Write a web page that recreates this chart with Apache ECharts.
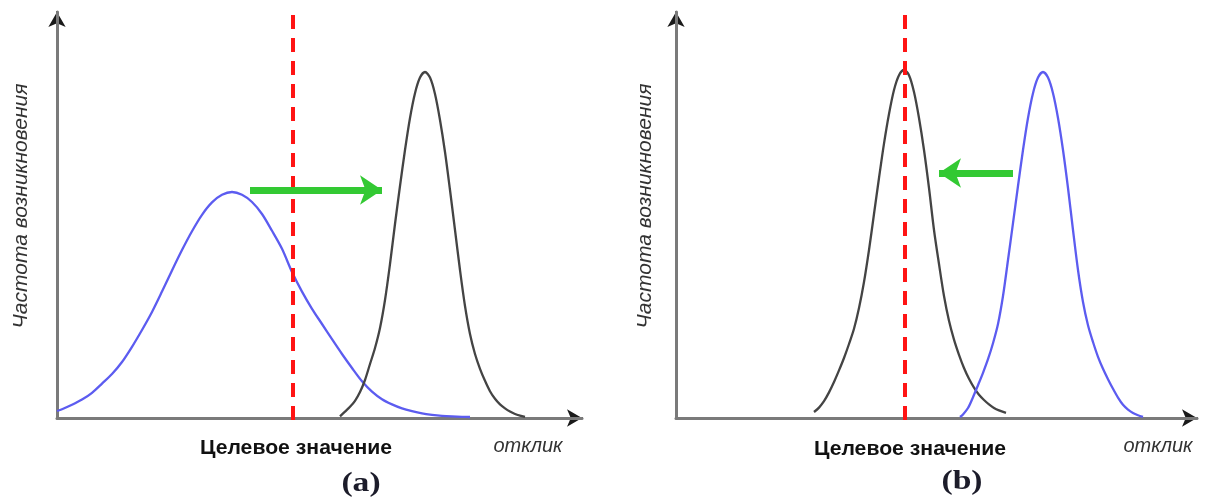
<!DOCTYPE html>
<html>
<head>
<meta charset="utf-8">
<script src="https://cdn.jsdelivr.net/npm/echarts@6/dist/echarts.min.js"></script>
<style>
html,body{margin:0;padding:0;background:#fff;}
#chart{width:1205px;height:501px;}
</style>
</head>
<body>
<div id="chart"></div>
<script>
// ---- data (response units on x, frequency on y) ----
// Panel (a)
const aBlueX = [0, 1, 3, 5, 7, 9, 11, 13, 15, 17, 19, 21, 23, 25, 27, 29, 31, 33, 35, 37, 39, 41, 43, 45, 47, 49, 51, 53, 55, 57, 59, 61, 63, 65, 67, 69, 71, 73, 75, 77, 79, 81, 82.6];
const aBlueY = [1.75, 2.2, 3.3, 4.6, 6.3, 8.6, 11, 14, 17.8, 22, 26.5, 31.6, 36.9, 42, 46.7, 50.8, 53.9, 55.8, 56.5, 55.8, 54, 51, 46.8, 42.3, 36.5, 31.6, 27.3, 23.5, 19.7, 16, 12.5, 9.2, 6.6, 4.7, 3.4, 2.4, 1.7, 1.15, 0.8, 0.55, 0.4, 0.3, 0.25];
const aBlackX = [56.6, 57.6, 58.6, 59.6, 60.6, 61.6, 62.6, 63.6, 64.6, 65.6, 66.6, 67.6, 68.6, 69.6, 70.6, 71.6, 72.6, 73.6, 74.6, 75.6, 76.6, 77.6, 78.6, 79.6, 80.6, 81.6, 82.6, 83.6, 84.6, 85.6, 86.6, 87.6, 88.6, 89.6, 90.6, 91.6, 92.6, 93.6];
const aBlackY = [0.4, 1.6, 2.8, 4.3, 6.5, 9.5, 13.5, 17.5, 22.5, 29.5, 38.5, 48.5, 58, 67, 75, 81.2, 85.1, 86.5, 85.1, 81, 74.5, 66.5, 57, 47, 37, 28, 21, 16, 12.3, 9.3, 6.7, 4.8, 3.4, 2.4, 1.6, 1, 0.6, 0.3];
const aTarget = 47.2;
const aShift = [[38.6, 57], [65, 57]];
// Panel (b)
const bBlackX = [27.6, 28.6, 29.6, 30.6, 31.6, 32.6, 33.6, 34.6, 35.6, 36.6, 37.6, 38.6, 39.6, 40.6, 41.6, 42.6, 43.6, 44.6, 45.6, 46.6, 47.6, 48.6, 49.6, 50.6, 51.6, 52.6, 53.6, 54.6, 55.6, 56.6, 57.6, 58.6, 59.6, 60.6, 61.6, 62.6, 63.6, 64.6, 66];
const bBlackY = [1.5, 2.6, 4.2, 6.4, 9, 11.9, 15, 18.5, 22.3, 27.5, 34, 42, 51, 60, 68.6, 76, 82, 85.7, 87, 85.7, 81.5, 75, 67, 57.5, 47, 38.5, 30.5, 24.3, 19.6, 15.8, 12.5, 9.8, 7.6, 5.8, 4.5, 3.4, 2.5, 1.9, 1.3];
const bBlueX = [56.8, 57.4, 58.4, 59.4, 60.4, 61.4, 62.4, 63.4, 64.4, 65.4, 66.4, 67.4, 68.4, 69.4, 70.4, 71.4, 72.4, 73.4, 74.4, 75.4, 76.4, 77.4, 78.4, 79.4, 80.4, 81.4, 82.4, 83.4, 84.4, 85.4, 86.4, 87.4, 88.4, 89.4, 90.4, 91.4, 92.4, 93.4];
const bBlueY = [0.25, 0.9, 2.5, 5.2, 8.2, 11.3, 14.7, 18.7, 23.5, 30.5, 39.5, 48.7, 58, 67, 75, 81.2, 85.1, 86.5, 85.1, 81.2, 75, 67, 57.5, 47, 37, 29, 23.2, 19, 15.3, 12.3, 9.7, 7.3, 5.1, 3.3, 2.1, 1.25, 0.7, 0.3];
const bTarget = 45.8;
const bShift = [[67.4, 61.25], [52.6, 61.25]];
// axis ranges
const aXMax = 105, bXMax = 104.2, yMax = 101.5;
// texts
const yTitle = 'Частота возникновения';
const xTitle = 'отклик';
const targetLabel = 'Целевое значение';
const panelLabels = ['(a)', '(b)'];

const zip = (xs, ys) => xs.map((x, i) => [x, ys[i]]);

const BLUE = '#5c5cf0', BLACK = '#444444', RED = '#ff1414', GREEN = '#33c933';
const AXIS_GRAY = '#7a7a7a', AXIS_DARK = '#1a1a1a';

function axisPair(kind, grid, max) {
  const base = {
    gridIndex: grid, type: 'value', min: 0, max: max,
    axisTick: {show: false}, axisLabel: {show: false}, splitLine: {show: false}
  };
  base.position = kind === 'x' ? 'bottom' : 'left';
  return [
    Object.assign({}, base, {z: 1, axisLine: {show: true, onZero: false, lineStyle: {color: AXIS_GRAY, width: 3}}}),
    Object.assign({}, base, {z: 0, axisLine: {show: true, onZero: false, symbol: ['none', 'arrow'], symbolSize: [13, 15], lineStyle: {color: AXIS_DARK, width: 2}}})
  ];
}

const xAxis = [...axisPair('x', 0, aXMax), ...axisPair('x', 1, bXMax)];
const yAxis = [...axisPair('y', 0, yMax), ...axisPair('y', 1, yMax)];

function curve(data, color, xi, yi) {
  return {
    type: 'line', xAxisIndex: xi, yAxisIndex: yi, data: data,
    smooth: 0.3, showSymbol: false, symbol: 'none', silent: true,
    lineStyle: {color: color, width: 2.3, join: 'round'}, z: 3
  };
}
function target(x, xi, yi) {
  return {
    type: 'line', xAxisIndex: xi, yAxisIndex: yi, clip: false,
    data: [[x, 100.75], [x, -2.5]], symbol: 'none', silent: true,
    lineStyle: {color: RED, width: 4, type: [14, 9]}, z: 4
  };
}
function shift(coords, xi, yi) {
  return {
    type: 'lines', coordinateSystem: 'cartesian2d', xAxisIndex: xi, yAxisIndex: yi,
    data: [{coords: coords}], symbol: ['none', 'arrow'], symbolSize: [19, 22], silent: true,
    lineStyle: {color: GREEN, width: 7, opacity: 1, curveness: 0}, z: 5
  };
}

const series = [
  curve(zip(aBlueX, aBlueY), BLUE, 0, 0),
  curve(zip(aBlackX, aBlackY), BLACK, 0, 0),
  target(aTarget, 0, 0),
  shift(aShift, 0, 0),
  curve(zip(bBlackX, bBlackY), BLACK, 2, 2),
  curve(zip(bBlueX, bBlueY), BLUE, 2, 2),
  target(bTarget, 2, 2),
  shift(bShift, 2, 2)
];

function txt(text, x, y, font, fill, rot, sx) {
  return {
    type: 'text', x: x, y: y, rotation: rot || 0, scaleX: sx || 1, silent: true,
    style: {text: text, font: font, fill: fill, align: 'center', verticalAlign: 'middle'}
  };
}

const boldFont = 'bold 20px "Liberation Sans", Arial, sans-serif';
const italFont = 'italic 20px "Liberation Sans", Arial, sans-serif';
const yFont = 'italic 21px "Liberation Sans", Arial, sans-serif';
const serifFont = 'bold 28px "Liberation Serif", "Times New Roman", serif';

const graphic = [
  txt(yTitle, 21, 206, yFont, '#333', Math.PI / 2),
  txt(yTitle, 645, 206, yFont, '#333', Math.PI / 2),
  txt(targetLabel, 296, 448, boldFont, '#111', 0, 1.06),
  txt(targetLabel, 910, 449, boldFont, '#111', 0, 1.06),
  txt(xTitle, 528, 446, italFont, '#333'),
  txt(xTitle, 1158, 446, italFont, '#333'),
  txt(panelLabels[0], 361, 484, serifFont, '#1c1c2a', 0, 1.2),
  txt(panelLabels[1], 962, 482, serifFont, '#1c1c2a', 0, 1.2)
];

const chart = echarts.init(document.getElementById('chart'), null, {renderer: 'canvas'});
chart.setOption({
  animation: false,
  backgroundColor: '#fff',
  grid: [
    {left: 57, top: 12, width: 525, height: 406},
    {left: 676, top: 12, width: 521, height: 406}
  ],
  xAxis: xAxis,
  yAxis: yAxis,
  series: series,
  graphic: graphic
});
</script>
</body>
</html>
